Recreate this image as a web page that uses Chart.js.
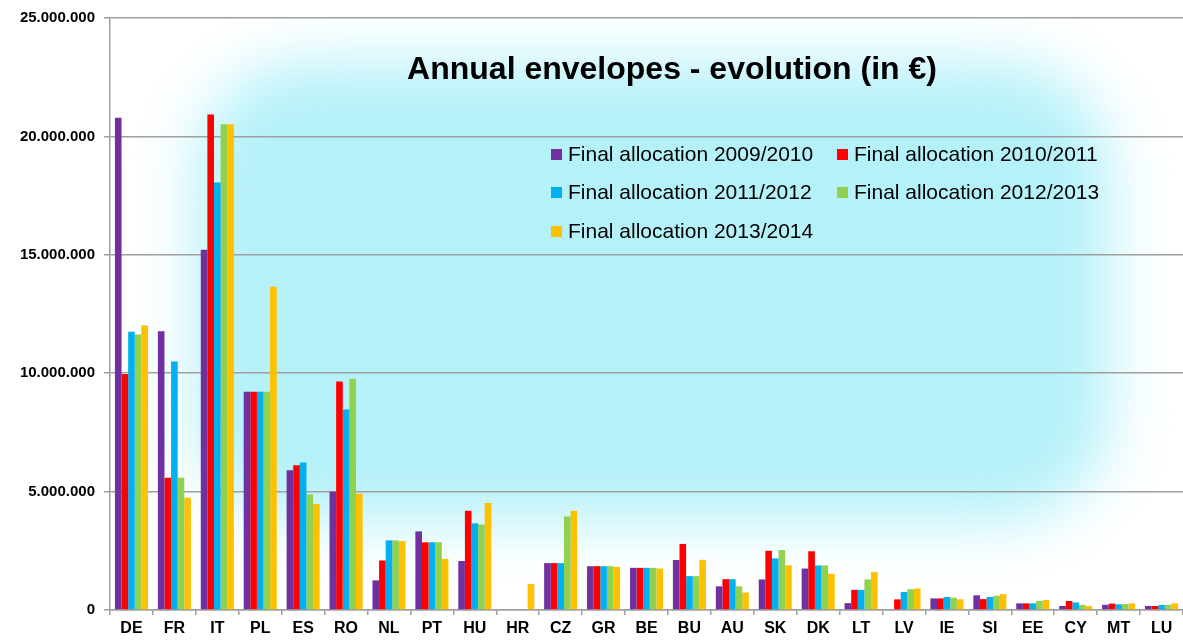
<!DOCTYPE html>
<html>
<head>
<meta charset="utf-8">
<script src="https://cdn.jsdelivr.net/npm/chart.js@4/dist/chart.umd.min.js"></script>
<style>
  html, body { margin: 0; padding: 0; background: #fff; }
  #wrap { width: 1183px; height: 640px; }
</style>
</head>
<body>
<div id="wrap"><canvas id="mainChart" width="1183" height="640"></canvas></div>
<script>
// ==========================================
// DATA
// ==========================================
const categories = ['DE','FR','IT','PL','ES','RO','NL','PT','HU','HR','CZ','GR','BE','BU','AU','SK','DK','LT','LV','IE','SI','EE','CY','MT','LU'];

const alloc0910 = [20790000, 11770000, 15210000, 9220000, 5900000, 5000000, 1250000, 3320000, 2070000, 0, 1980000, 1850000, 1780000, 2110000, 1000000, 1290000, 1750000, 290000, 0, 490000, 620000, 280000, 170000, 220000, 170000];
const alloc1011 = [9970000, 5590000, 20920000, 9220000, 6110000, 9650000, 2090000, 2860000, 4190000, 0, 1980000, 1850000, 1780000, 2790000, 1300000, 2500000, 2480000, 850000, 450000, 490000, 460000, 280000, 380000, 270000, 170000];
const alloc1112 = [11750000, 10490000, 18050000, 9220000, 6230000, 8470000, 2940000, 2860000, 3660000, 0, 1980000, 1850000, 1780000, 1430000, 1300000, 2180000, 1880000, 850000, 760000, 550000, 550000, 280000, 320000, 240000, 210000];
const alloc1213 = [11630000, 5590000, 20510000, 9220000, 4880000, 9770000, 2940000, 2860000, 3610000, 0, 3950000, 1850000, 1780000, 1430000, 1000000, 2530000, 1880000, 1290000, 880000, 520000, 600000, 380000, 220000, 250000, 220000];
const alloc1314 = [12010000, 4740000, 20510000, 13650000, 4480000, 4910000, 2910000, 2160000, 4520000, 1100000, 4190000, 1820000, 1750000, 2120000, 740000, 1890000, 1530000, 1600000, 910000, 450000, 670000, 420000, 170000, 280000, 280000];

const seriesLabels = ['Final allocation 2009/2010', 'Final allocation 2010/2011', 'Final allocation 2011/2012', 'Final allocation 2012/2013', 'Final allocation 2013/2014'];
const seriesColors = ['#7030A0', '#FF0000', '#00B0F0', '#92D050', '#FFC000'];
const yTickValues = [0, 5000000, 10000000, 15000000, 20000000, 25000000];

const chartTitle = 'Annual envelopes - evolution (in €)';

// ==========================================
// PLUGINS: nền gradient, tiêu đề, chú thích
// ==========================================
const bgPlugin = {
    id: 'bgGlow',
    beforeDraw(chart) {
        const { ctx, chartArea: a } = chart;
        ctx.save();
        ctx.fillStyle = '#ffffff';
        ctx.fillRect(0, 0, chart.width, chart.height);
        ctx.beginPath();
        ctx.rect(a.left, a.top, a.right - a.left, a.bottom - a.top);
        ctx.clip();
        // vùng xanh nhạt mờ dần ra các cạnh
        ctx.filter = 'blur(30px)';
        ctx.fillStyle = '#b5f1f9';
        ctx.beginPath();
        ctx.roundRect(195, 62, 915, 460, 110);
        ctx.fill();
        ctx.restore();
    }
};

const overlayPlugin = {
    id: 'overlay',
    afterDraw(chart) {
        const { ctx } = chart;
        ctx.save();
        // tiêu đề
        ctx.fillStyle = '#000';
        ctx.font = 'bold 32px "Liberation Sans", Arial, sans-serif';
        ctx.textAlign = 'center';
        ctx.textBaseline = 'middle';
        ctx.fillText(chartTitle, 672, 70);

        // chú thích 2 cột
        ctx.font = '21px "Liberation Sans", Arial, sans-serif';
        ctx.textAlign = 'left';
        const colX = [551, 837];
        const rowY = [154, 192, 231];
        seriesLabels.forEach((lbl, i) => {
            const x = colX[i % 2];
            const y = rowY[Math.floor(i / 2)];
            ctx.fillStyle = seriesColors[i];
            ctx.fillRect(x, y - 5, 11, 11);
            ctx.fillStyle = '#000';
            ctx.fillText(lbl, x + 17, y + 1);
        });
        ctx.restore();
    }
};

// ==========================================
// CHART
// ==========================================
function formatDots(v) {
    return String(v).replace(/\B(?=(\d{3})+(?!\d))/g, '.');
}

const datasets = [alloc0910, alloc1011, alloc1112, alloc1213, alloc1314].map((data, i) => ({
    label: seriesLabels[i],
    data: data,
    backgroundColor: seriesColors[i],
    borderWidth: 0,
    categoryPercentage: 0.77,
    barPercentage: 1.0
}));

const gridColor = '#9f9f9f';

new Chart(document.getElementById('mainChart').getContext('2d'), {
    type: 'bar',
    data: { labels: categories, datasets: datasets },
    plugins: [bgPlugin, overlayPlugin],
    options: {
        responsive: false,
        animation: false,
        layout: { padding: { top: 14, right: 0, left: 0, bottom: 0 } },
        plugins: {
            legend: { display: false },
            title: { display: false },
            tooltip: { enabled: false }
        },
        scales: {
            x: {
                grid: {
                    display: true,
                    drawOnChartArea: false,
                    drawTicks: true,
                    tickLength: 5,
                    color: gridColor,
                    lineWidth: 1.5,
                    offset: true
                },
                border: { color: gridColor, width: 1.5 },
                ticks: {
                    color: '#000',
                    padding: 4,
                    maxRotation: 0,
                    autoSkip: false,
                    font: { family: '"Liberation Sans", Arial, sans-serif', size: 16, weight: 'bold' }
                },
                afterFit(scale) { scale.height = 30; }
            },
            y: {
                min: 0,
                max: 25000000,
                grid: {
                    color: gridColor,
                    lineWidth: 1.5,
                    tickLength: 6
                },
                border: { color: gridColor, width: 1.5 },
                afterBuildTicks(scale) {
                    scale.ticks = yTickValues.map(v => ({ value: v }));
                },
                ticks: {
                    color: '#000',
                    padding: 9,
                    callback: v => formatDots(v),
                    font: { family: '"Liberation Sans", Arial, sans-serif', size: 15, weight: 'bold' }
                },
                afterFit(scale) { scale.width = 110; }
            }
        }
    }
});
</script>
</body>
</html>
